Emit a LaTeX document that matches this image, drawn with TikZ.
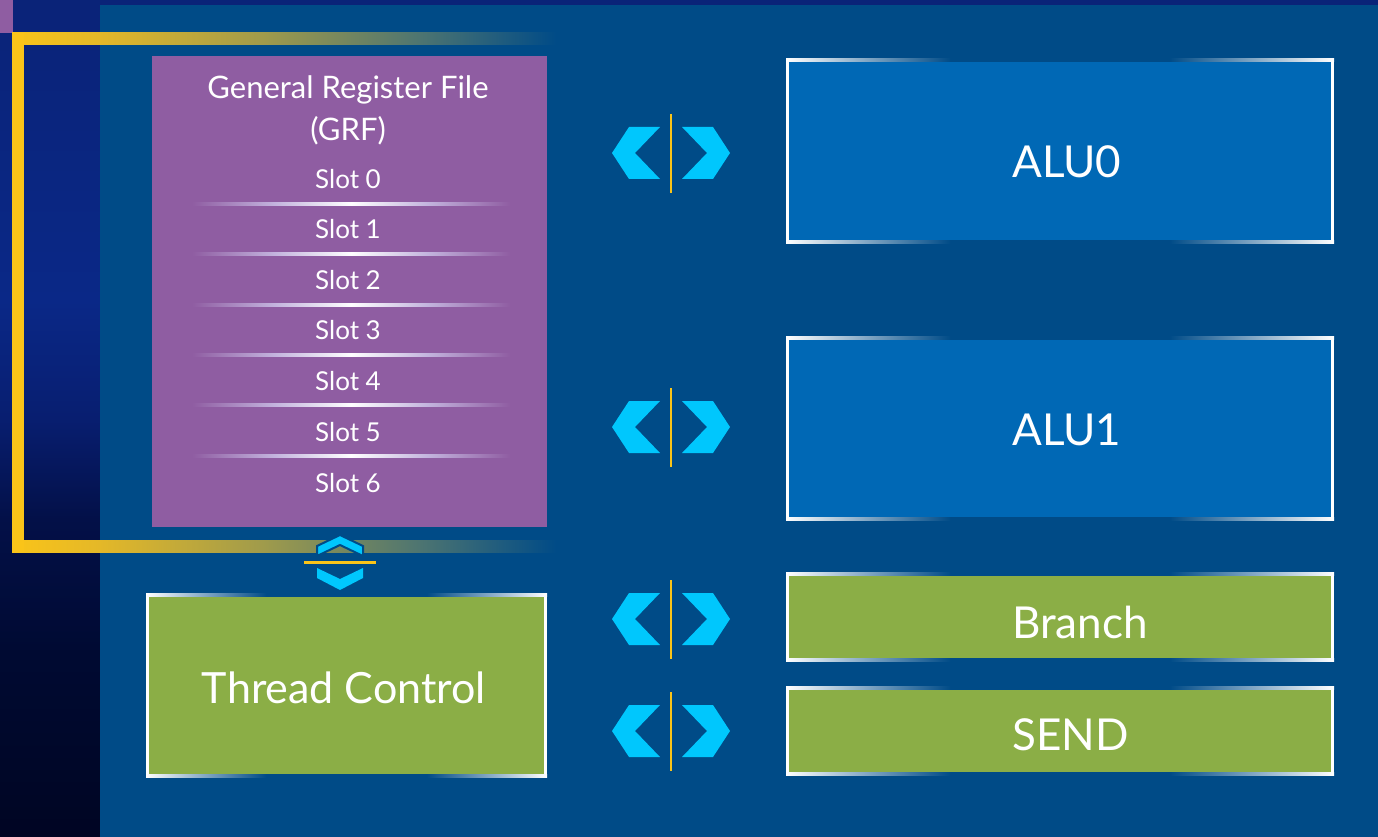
\documentclass[tikz,border=0pt]{standalone}
\usepackage{fontspec}
\setmainfont{Lato}
\usetikzlibrary{calc}

% palette
\definecolor{panel}{RGB}{0,75,135}
\definecolor{aluBlue}{RGB}{0,104,181}
\definecolor{unitGreen}{RGB}{139,174,70}
\definecolor{grfPurple}{RGB}{143,93,162}
\definecolor{chevCyan}{RGB}{0,199,253}
\definecolor{accentYellow}{RGB}{250,196,25}
\definecolor{lbTop}{RGB}{10,35,120}
\definecolor{lbMid}{RGB}{10,40,135}
\definecolor{lbMid2}{RGB}{8,30,112}
\definecolor{lbLow}{RGB}{3,16,72}
\definecolor{lbLow2}{RGB}{0,10,50}
\definecolor{lbBottom}{RGB}{0,5,35}
\definecolor{armA}{RGB}{228,184,40}
\definecolor{armB}{RGB}{160,155,75}
\definecolor{armC}{RGB}{80,118,112}
\definecolor{sepLav}{RGB}{195,180,222}

% left backdrop: deep navy fading to near black at the bottom
\pgfdeclareverticalshading{leftbg}{100bp}{color(0bp)=(lbBottom); color(25bp)=(lbBottom);
  color(36bp)=(lbLow2); color(44bp)=(lbLow); color(50bp)=(lbMid2); color(57bp)=(lbMid);
  color(75bp)=(lbTop); color(100bp)=(lbTop)}
% glowing top/bottom frame edges: white at the corners, dark in the middle
\pgfdeclarehorizontalshading{edgeglow}{100bp}{color(0bp)=(white); color(25bp)=(white);
  color(40bp)=(panel); color(60bp)=(panel); color(75bp)=(white); color(100bp)=(white)}
% slot separators: bright in the centre, vanishing at the ends
\pgfdeclarehorizontalshading{slotsep}{100bp}{color(0bp)=(grfPurple); color(25bp)=(grfPurple);
  color(38bp)=(sepLav); color(50bp)=(white); color(62bp)=(sepLav); color(75bp)=(grfPurple); color(100bp)=(grfPurple)}
% bracket arms fading out to the right
\pgfdeclarehorizontalshading{armfade}{100bp}{color(0bp)=(accentYellow); color(25bp)=(accentYellow);
  color(33bp)=(armA); color(48bp)=(armB); color(62bp)=(armC); color(75bp)=(panel); color(100bp)=(panel)}

\tikzset{
  unitbox/.style={rectangle, inner sep=0pt, outer sep=0pt, draw=none},
  biglabel/.style={text=white, inner sep=0pt, font=\fontsize{44}{52}\selectfont},
  grftitle/.style={text=white, inner sep=0pt, font=\fontsize{31}{36}\selectfont},
  slotlabel/.style={text=white, inner sep=0pt, font=\fontsize{26}{30}\selectfont},
  chev/.style={fill=chevCyan},
  divider/.style={draw=accentYellow, line width=2.5pt},
  pics/lrarrow/.style={code={
    \fill[chev] (-42,-26) -- (-11,-26) -- (-36,0) -- (-11,26) -- (-42,26) -- (-59,0) -- cycle;
    \fill[chev] (42,-26) -- (11,-26) -- (36,0) -- (11,26) -- (42,26) -- (59,0) -- cycle;
    \draw[divider] (0,-39) -- (0,40);
  }},
  pics/udarrow/.style={code={
    \filldraw[chev, draw=panel, line width=2pt] (0,-27) -- (23,-16) -- (23,-6) -- (0,-17) -- (-23,-6) -- (-23,-16) -- cycle;
    \fill[chev] (-23,6) -- (0,17) -- (23,6) -- (23,16) -- (0,28) -- (-23,16) -- cycle;
    \draw[divider, line width=3pt] (-36,0) -- (36,0);
  }}
}

% white frame with glowing top and bottom edges
\newcommand{\glowframe}[1]{%
  \fill[white] ($(#1.north west)$) rectangle ($(#1.south west)+(3,0)$);
  \fill[white] ($(#1.north east)+(-3,0)$) rectangle ($(#1.south east)$);
  \shade[shading=edgeglow] ($(#1.north west)$) rectangle ($(#1.north east)+(0,3)$);
  \shade[shading=edgeglow] ($(#1.south west)+(0,-3)$) rectangle ($(#1.south east)$);
}

\begin{document}
\begin{tikzpicture}[x=1pt, y=-1pt]
  \useasboundingbox (0,0) rectangle (1378,837);

  % backdrop
  \shade[shading=leftbg] (0,0) rectangle (1378,837);
  \fill[panel] (100,5) rectangle (1378,837);
  \fill[grfPurple] (0,0) rectangle (13,33);

  % yellow bracket around the register file
  \shade[shading=armfade] (12,33) rectangle (556,45);
  \shade[shading=armfade] (12,540) rectangle (556,552);
  \fill[accentYellow] (12,33) rectangle (24,552);

  % register file
  \node[unitbox, fill=grfPurple, minimum width=395, minimum height=471] (grf) at (349.5,291.5) {};
  \node[grftitle] (grftitle1) at (348,90) {General Register File};
  \node[grftitle] (grftitle2) at (348,131) {(GRF)};
  \foreach \i/\y in {0/179,1/229,2/280,3/330,4/381,5/432,6/483} {
    \node[slotlabel] (slot\i) at (348,\y) {Slot \i};
  }
  \foreach \y in {204,254,305,355,405,456} {
    \shade[shading=slotsep] (192,\y-1.5) rectangle (510,\y+1.5);
  }

  % execution units
  \node[unitbox, fill=aluBlue, minimum width=548, minimum height=184] (alu0) at (1060,151) {};
  \node[unitbox, fill=aluBlue, minimum width=548, minimum height=184] (alu1) at (1060,428) {};
  \node[unitbox, fill=unitGreen, minimum width=548, minimum height=89] (branch) at (1060,616.5) {};
  \node[unitbox, fill=unitGreen, minimum width=548, minimum height=89] (send) at (1060,730.5) {};
  \node[unitbox, fill=unitGreen, minimum width=401, minimum height=184] (tc) at (346.5,685) {};
  \glowframe{alu0}
  \glowframe{alu1}
  \glowframe{branch}
  \glowframe{send}
  \glowframe{tc}

  \node[biglabel, anchor=west] (alu0lbl) at (1012,162) {ALU0};
  \node[biglabel, anchor=west] (alu1lbl) at (1012,430) {ALU1};
  \node[biglabel, anchor=west] (branchlbl) at (1012,622) {Branch};
  \node[biglabel, anchor=west] (sendlbl) at (1012,735) {SEND};
  \node[biglabel, font=\fontsize{43}{50}\selectfont] (tclbl) at (344,688) {Thread Control};

  % bidirectional links
  \pic at (671,153) {lrarrow};
  \pic at (671,427) {lrarrow};
  \pic at (671,619) {lrarrow};
  \pic at (671,731) {lrarrow};
  \pic at (340,562) {udarrow};
\end{tikzpicture}
\end{document}
